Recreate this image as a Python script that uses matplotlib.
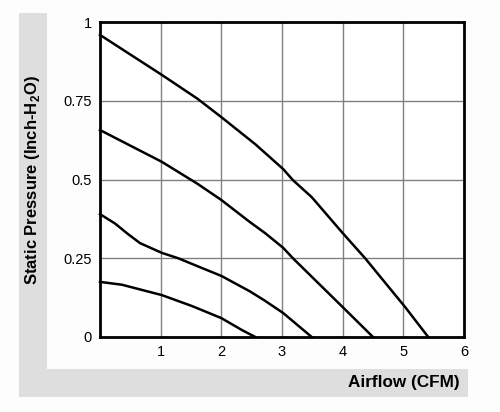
import matplotlib
matplotlib.use("Agg")
import matplotlib.pyplot as plt
from matplotlib.patches import Rectangle

plt.rcParams['font.family'] = ['Liberation Sans', 'DejaVu Sans']

# Fan curves (Airflow CFM, Static pressure inch-H2O)
c1_x = [0, 1.02, 1.61, 2.0, 2.56, 3.02, 3.18, 3.49, 4.0, 4.37, 5.03, 5.41]
c1_y = [0.959, 0.832, 0.756, 0.698, 0.612, 0.533, 0.498, 0.444, 0.330, 0.25, 0.095, 0.0]
c2_x = [0, 1.02, 1.61, 2.0, 2.47, 2.72, 3.02, 3.18, 4.0, 4.5]
c2_y = [0.657, 0.556, 0.486, 0.435, 0.365, 0.33, 0.283, 0.25, 0.095, 0.0]
c3_x = [0, 0.25, 0.46, 0.66, 1.02, 1.29, 1.68, 2.0, 2.22, 2.47, 2.72, 3.02, 3.49]
c3_y = [0.39, 0.36, 0.327, 0.298, 0.267, 0.25, 0.219, 0.194, 0.171, 0.145, 0.115, 0.076, 0.0]
c4_x = [0, 0.36, 1.02, 1.52, 2.0, 2.34, 2.56]
c4_y = [0.175, 0.166, 0.133, 0.098, 0.06, 0.022, 0.0]

xticks = [1, 2, 3, 4, 5, 6]
yticks = [0, 0.25, 0.5, 0.75, 1]
ytick_labels = ['0', '0.25', '0.5', '0.75', '1']

W, H = 500, 412
fig = plt.figure(figsize=(W/100, H/100), dpi=100)
fig.patch.set_facecolor('#fdfdfd')

grey = '#dedede'
# left strip
fig.patches.append(Rectangle((19/W, 1-397/H), (47-19)/W, (397-13)/H,
                             transform=fig.transFigure, facecolor=grey, edgecolor='none', zorder=0))
# bottom strip
fig.patches.append(Rectangle((19/W, 1-397/H), (468-19)/W, (397-369)/H,
                             transform=fig.transFigure, facecolor=grey, edgecolor='none', zorder=0))

ax = fig.add_axes([100/W, 1-337/H, (464-100)/W, (337-22)/H])
ax.set_facecolor('white')
ax.set_xlim(0, 6)
ax.set_ylim(0, 1)
ax.set_xticks(xticks)
ax.set_xticklabels([str(t) for t in xticks])
ax.set_yticks(yticks)
ax.set_yticklabels(ytick_labels)
ax.grid(True, color='#808080', linewidth=1.0)
ax.set_axisbelow(True)
ax.tick_params(length=0, labelsize=10.5, pad=6)
for s in ax.spines.values():
    s.set_linewidth(2.0)
    s.set_color('black')

for xs, ys in [(c1_x, c1_y), (c2_x, c2_y), (c3_x, c3_y), (c4_x, c4_y)]:
    ax.plot(xs, ys, color='black', linewidth=1.8, clip_on=False, zorder=3,
            solid_joinstyle='round')

fig.text(33/W, 1-180/H, 'Static Pressure (Inch-H$_\\mathregular{2}$O)', rotation=90,
         ha='center', va='center', fontsize=12, fontweight='bold')
fig.text(460/W, 1-383/H, 'Airflow (CFM)', ha='right', va='center',
         fontsize=12.3, fontweight='bold')

fig.savefig('out.png', dpi=100)
